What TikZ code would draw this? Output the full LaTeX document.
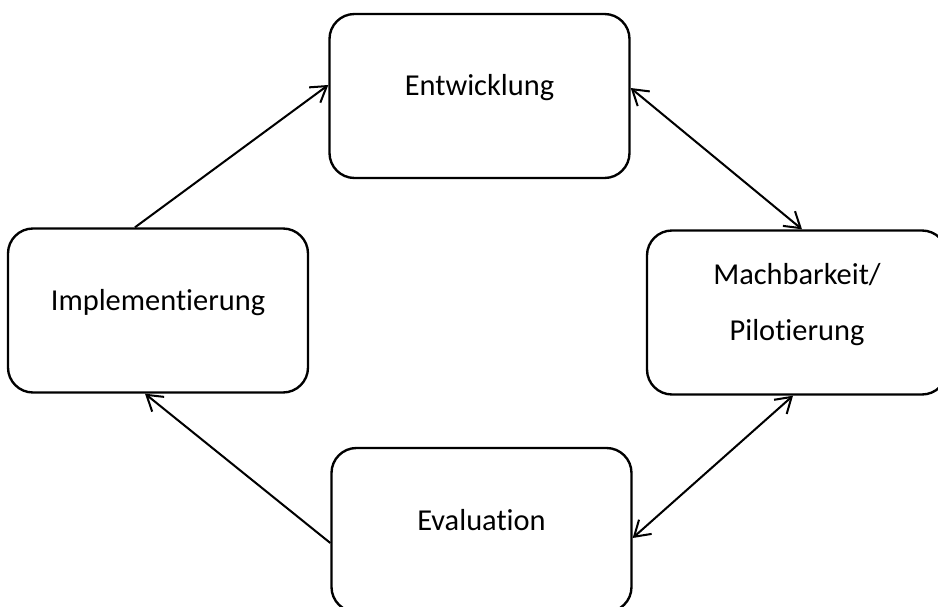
\documentclass[tikz,border=0pt]{standalone}
\usepackage{fontspec}
\setmainfont{Carlito}[Ligatures=NoCommon]
\usepackage{tikz}
\usetikzlibrary{arrows.meta}

\begin{document}
\begin{tikzpicture}[
          every node/.style={font=\fontsize{17.3pt}{32pt}\selectfont},
          box/.style={draw,rounded corners=0.5cm,line width=1.35pt,
                      minimum width=6cm,minimum height=3.28cm,align=center,inner sep=0pt,
                      text height=0.4cm,text depth=0.4cm},
          arr/.style={-{Straight Barb[length=0.3cm,width=0.38cm]},line width=1.15pt},
          darr/.style={{Straight Barb[length=0.3cm,width=0.38cm]}-{Straight Barb[length=0.3cm,width=0.38cm]},line width=1.15pt},
      ]
        \useasboundingbox (0,0) rectangle (18.76,12.12);
        \clip (0,0) rectangle (18.76,12.12);

        \node[box] (entw) at (9.59,10.20) {Entwicklung};
        \node[box,text height=1.52cm] (mach) at (15.94,5.87)
          {Machbarkeit/\\Pilotierung};
        \node[box] (eval) at (9.63,1.52) {Evaluation};
        \node[box] (impl) at (3.16,5.91) {Implementierung};

        \draw[arr] ([xshift=-0.46cm]impl.north) -- ([yshift=0.22cm]entw.west);
        \draw[darr] ([yshift=0.16cm]entw.east) -- ([xshift=0.1cm]mach.north);
        \draw[darr] ([xshift=-0.08cm]mach.south) -- ([yshift=-0.16cm]eval.east);
        \draw[arr] ([yshift=-0.26cm]eval.west) -- ([xshift=-0.26cm]impl.south);
      \end{tikzpicture}
\end{document}
